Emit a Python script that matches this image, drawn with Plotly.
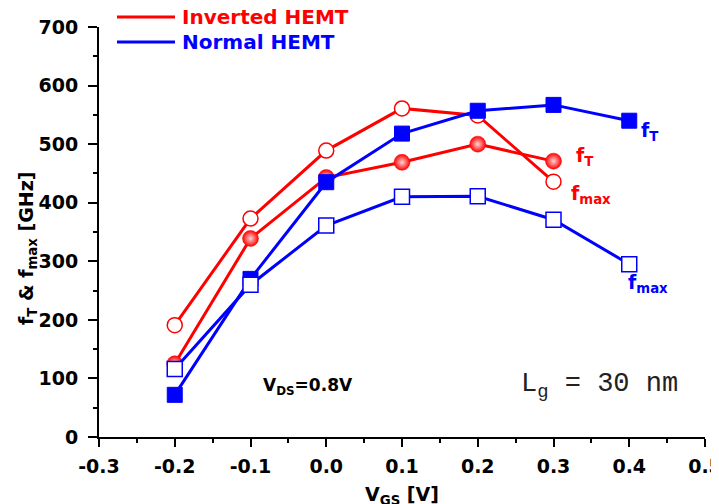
import plotly.graph_objects as go

# ---- data ----
vgs_inv = [-0.2, -0.1, 0.0, 0.1, 0.2, 0.3]
inv_fmax = [191, 373, 489, 561, 549, 436]
inv_ft = [125, 339, 443, 469, 500, 471]

vgs_norm = [-0.2, -0.1, 0.0, 0.1, 0.2, 0.3, 0.4]
norm_ft = [72, 270, 435, 518, 557, 567, 540]
norm_fmax = [116, 260, 361, 410, 411, 371, 295]

x_ticks = [-0.3, -0.2, -0.1, 0.0, 0.1, 0.2, 0.3, 0.4, 0.5]
y_ticks = [0, 100, 200, 300, 400, 500, 600, 700]

RED = "#ff0000"
BLUE = "#0000ff"

# page renders with an 8px body margin; compensate
OFF = 8
W, H = 719, 504
SX0, SX1 = 99, 705      # screen x of plot area
SY0, SY1 = 27, 437      # screen y of plot area
L = SX0 - OFF
T = SY0 - OFF
PW = SX1 - SX0
PH = SY1 - SY0
R = W - L - PW
B = H - T - PH


def px(xs):
    return (xs - SX0) / PW


def py(ys):
    return (SY1 - ys) / PH


fig = go.Figure()

fig.add_trace(go.Scatter(
    x=vgs_inv, y=inv_fmax, mode="lines+markers",
    line=dict(color=RED, width=3),
    marker=dict(symbol="circle", size=15, color="white",
                line=dict(color=RED, width=1.5)),
    showlegend=False))
fig.add_trace(go.Scatter(
    x=vgs_inv, y=inv_ft, mode="lines+markers",
    line=dict(color=RED, width=3),
    marker=dict(symbol="circle", size=16, color=RED,
                gradient=dict(type="radial", color="#ffd6d6"),
                line=dict(color=RED, width=0.5)),
    showlegend=False))
fig.add_trace(go.Scatter(
    x=vgs_norm, y=norm_ft, mode="lines+markers",
    line=dict(color=BLUE, width=3),
    marker=dict(symbol="square", size=15, color=BLUE,
                line=dict(color=BLUE, width=1)),
    showlegend=False))
fig.add_trace(go.Scatter(
    x=vgs_norm, y=norm_fmax, mode="lines+markers",
    line=dict(color=BLUE, width=3),
    marker=dict(symbol="square", size=15, color="white",
                line=dict(color=BLUE, width=1.5)),
    showlegend=False))

BOLD = dict(family="DejaVu Sans", size=19, color="black", weight="bold")

ann = []
# legend
for ys, col, txt in [(17, RED, "Inverted HEMT"), (42, BLUE, "Normal HEMT")]:
    fig.add_shape(type="line", xref="paper", yref="paper",
                  x0=px(117), x1=px(175), y0=py(ys), y1=py(ys),
                  line=dict(color=col, width=3))
    ann.append(dict(x=px(180), y=py(ys), xref="paper", yref="paper",
                    text=txt, showarrow=False, xanchor="left", yanchor="middle",
                    font=dict(family="DejaVu Sans", size=20, color=col, weight="bold")))

# curve labels
sub_font = lambda col: dict(family="DejaVu Sans", size=19, color=col, weight="bold")
curve_labels = [
    dict(x=px(639), y=py(131), text="f<sub>T</sub>", font=sub_font(BLUE)),
    dict(x=px(574), y=py(157), text="f<sub>T</sub>", font=sub_font(RED)),
    dict(x=px(569), y=py(194), text="f<sub>max</sub>", font=sub_font(RED)),
    dict(x=px(626), y=py(283), text="f<sub>max</sub>", font=sub_font(BLUE)),
]
for a in curve_labels:
    a.update(xref="paper", yref="paper", showarrow=False, xanchor="left", yanchor="middle")
ann += curve_labels

ann.append(dict(x=px(261), y=py(386), xref="paper", yref="paper", showarrow=False,
                xanchor="left", yanchor="middle",
                text="V<sub>DS</sub>=0.8V",
                font=dict(family="DejaVu Sans", size=17, color="black", weight="bold")))
ann.append(dict(x=px(519), y=py(386), xref="paper", yref="paper", showarrow=False,
                xanchor="left", yanchor="middle",
                text="L<sub>g</sub> = 30 nm",
                font=dict(family="Liberation Mono", size=27, color="#222222")))
# axis titles
ann.append(dict(x=px(402), y=py(481), xref="paper", yref="paper", showarrow=False,
                xanchor="center", yanchor="top",
                text="V<sub>GS</sub> [V]", font=BOLD))
ann.append(dict(x=px(27), y=py(249), xref="paper", yref="paper", showarrow=False,
                xanchor="center", yanchor="middle", textangle=-90,
                text="f<sub>T</sub> &amp; f<sub>max</sub> [GHz]", font=BOLD))

fig.update_layout(
    width=W, height=H,
    margin=dict(l=L, r=R, t=T, b=B),
    paper_bgcolor="white", plot_bgcolor="white",
    annotations=ann,
    xaxis=dict(range=[-0.3, 0.5], tickvals=x_ticks,
               ticktext=[f"{v:.1f}" for v in x_ticks],
               showgrid=False, zeroline=False, automargin=False,
               showline=True, linecolor="black", linewidth=2,
               ticks="outside", ticklen=8, tickwidth=2, tickcolor="black",
               minor=dict(dtick=0.05, ticks="outside", ticklen=4, tickwidth=2,
                          tickcolor="black", showgrid=False),
               tickfont=BOLD, ticklabelstandoff=3),
    yaxis=dict(range=[0, 700], tickvals=y_ticks,
               showgrid=False, zeroline=False, automargin=False,
               showline=True, linecolor="black", linewidth=2,
               ticks="outside", ticklen=9, tickwidth=2, tickcolor="black",
               minor=dict(dtick=50, ticks="outside", ticklen=4, tickwidth=2,
                          tickcolor="black", showgrid=False),
               tickfont=BOLD, ticklabelstandoff=6),
)

fig.write_html("out.html")
